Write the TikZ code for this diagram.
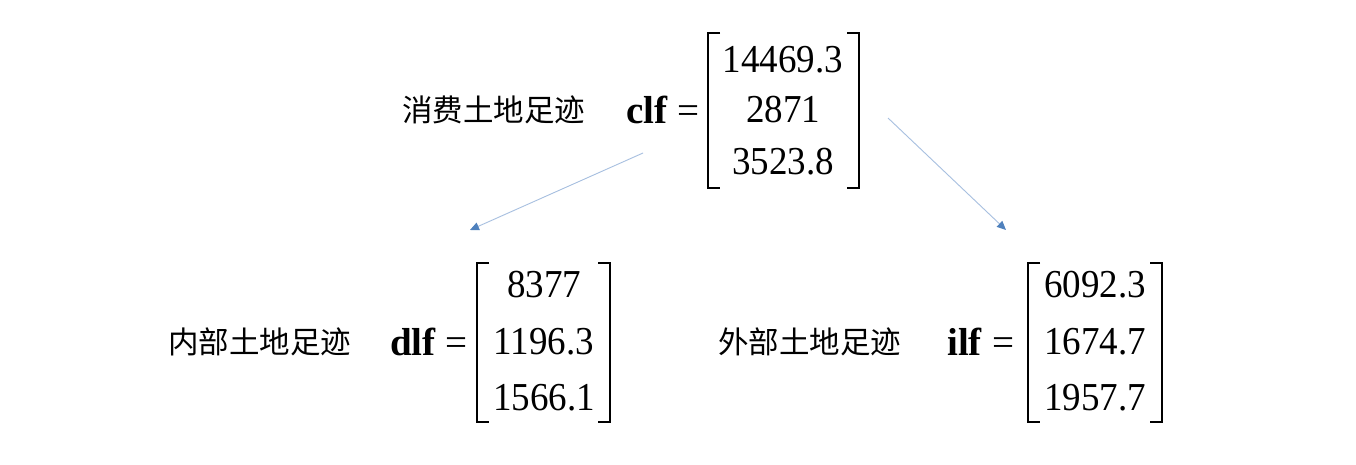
\documentclass[tikz,border=0pt]{standalone}
\usepackage{fontspec}
\setmainfont{Liberation Serif}
\newfontfamily\cjk{Noto Sans CJK SC}
\usetikzlibrary{arrows.meta}
\definecolor{arrowline}{HTML}{A7BFE0}
\definecolor{arrowhead}{HTML}{4F81BD}
\newcommand{\tallnum}[1]{\scalebox{1}[1.07]{#1}}
\begin{document}
\begin{tikzpicture}[x=1pt,y=-1pt,
  num/.style={font=\fontsize{37}{40}\selectfont, inner sep=0pt, anchor=center},
  lbl/.style={font=\cjk\fontsize{30.5}{34}\selectfont, inner sep=0pt, anchor=west},
  var/.style={font=\fontsize{39}{42}\selectfont, inner sep=0pt, anchor=west},
  brk/.style={line width=1.8pt},
  arr/.style={draw=arrowline, line width=0.9pt, -{Triangle[length=9pt,width=8pt,color=arrowhead]}}]
\useasboundingbox[fill=white] (0,0) rectangle (1356,464);

% top: consumption
\node[lbl] (clbl) at (402,110) {消费土地足迹};
\node[var] (cvar) at (626,110) {\textbf{clf} =};
\draw[brk] (720,33) -- (708,33) -- (708,188) -- (720,188);
\draw[brk] (847,33) -- (859,33) -- (859,188) -- (847,188);
\node[num] (c1) at (783,60) {\tallnum{14469.3}};
\node[num] (c2) at (783,110) {\tallnum{2871}};
\node[num] (c3) at (783,162) {\tallnum{3523.8}};

% bottom left: domestic
\node[lbl] (dlbl) at (168,342) {内部土地足迹};
\node[var] (dvar) at (390,342) {\textbf{dlf} =};
\draw[brk] (489,263) -- (477,263) -- (477,422) -- (489,422);
\draw[brk] (598,263) -- (610,263) -- (610,422) -- (598,422);
\node[num] (d1) at (544,285) {\tallnum{8377}};
\node[num] (d2) at (544,342) {\tallnum{1196.3}};
\node[num] (d3) at (544,398) {\tallnum{1566.1}};

% bottom right: imported
\node[lbl] (ilbl) at (718,342) {外部土地足迹};
\node[var] (ivar) at (947,342) {\textbf{ilf} =};
\draw[brk] (1040,263) -- (1028,263) -- (1028,422) -- (1040,422);
\draw[brk] (1150,263) -- (1162,263) -- (1162,422) -- (1150,422);
\node[num] (i1) at (1095,285) {\tallnum{6092.3}};
\node[num] (i2) at (1095,342) {\tallnum{1674.7}};
\node[num] (i3) at (1095,398) {\tallnum{1957.7}};

% arrows
\coordinate (a1s) at (643,153);
\coordinate (a1e) at (470,230);
\coordinate (a2s) at (888,118);
\coordinate (a2e) at (1006,230);
\draw[arr] (a1s) -- (a1e);
\draw[arr] (a2s) -- (a2e);
\end{tikzpicture}
\end{document}
